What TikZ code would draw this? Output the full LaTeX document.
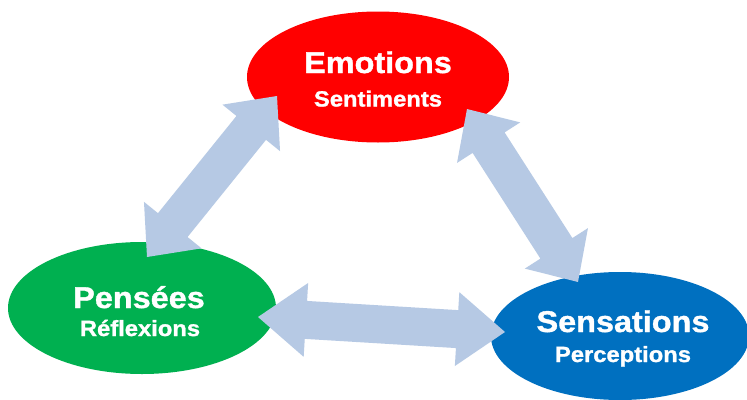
\documentclass[tikz,border=0pt]{standalone}
\usepackage{fontspec}
\newfontfamily\labfont{Liberation Sans}[FakeStretch=1.08,FakeBold=1.2]
\usetikzlibrary{shapes.geometric,calc}
\definecolor{emored}{HTML}{FF0000}
\definecolor{pengreen}{HTML}{00B050}
\definecolor{senblue}{HTML}{0070C0}
\definecolor{arrowblue}{HTML}{B6C9E4}
\tikzset{
  blob/.style={ellipse, inner sep=0pt, outer sep=0pt, draw=none},
  bigtxt/.style={text=white, inner sep=0pt, anchor=base, font=\labfont\bfseries\fontsize{30}{30}\selectfont},
  smalltxt/.style={text=white, inner sep=0pt, anchor=base, font=\labfont\bfseries\fontsize{22}{22}\selectfont},
  blockarrow/.style={fill=arrowblue, draw=none}
}
% double block arrow between two named coordinates: #1,#2 ends, #3 head length, #4 head half width, #5 shaft half width
\newcommand{\dblblock}[5]{%
  \fill[blockarrow] (#1)
    -- ($(#1)!#3!(#2)!#4!90:(#2)$)
    -- ($(#1)!#3!(#2)!#5!90:(#2)$)
    -- ($(#2)!#3!(#1)!#5!-90:(#1)$)
    -- ($(#2)!#3!(#1)!#4!-90:(#1)$)
    -- (#2)
    -- ($(#2)!#3!(#1)!#4!90:(#1)$)
    -- ($(#2)!#3!(#1)!#5!90:(#1)$)
    -- ($(#1)!#3!(#2)!#5!-90:(#2)$)
    -- ($(#1)!#3!(#2)!#4!-90:(#2)$)
    -- cycle;}
\begin{document}
\begin{tikzpicture}[x=1pt,y=-1pt]
\useasboundingbox (0,0) rectangle (747,399);
\fill[white] (0,0) rectangle (747,399);
\clip (0,0) rectangle (747,399);
% ellipses
\node[blob, fill=emored, minimum width=262pt, minimum height=131pt] (emo) at (378,77) {};
\node[blob, fill=pengreen, minimum width=268pt, minimum height=132pt] (pen) at (142,308) {};
\node[blob, fill=senblue, minimum width=258pt, minimum height=128pt] (sen) at (620,336) {};
% arrow ends
\coordinate (penTop) at (147,257);
\coordinate (emoLeft) at (277,96);
\coordinate (emoRight) at (467,109);
\coordinate (senTop) at (578,282);
\coordinate (penRight) at (258,317);
\coordinate (senLeft) at (505,332);
\dblblock{penTop}{emoLeft}{41pt}{37pt}{19pt}
\dblblock{emoRight}{senTop}{40pt}{37.5pt}{19pt}
\dblblock{penRight}{senLeft}{48pt}{37pt}{19pt}
% labels
\node[bigtxt] (emoT) at (378,73) {Emotions};
\node[smalltxt] (emoS) at (378,106.5) {Sentiments};
\node[bigtxt] (penT) at (139,308) {Pensées};
\node[smalltxt] (penS) at (140,336) {Réflexions};
\node[bigtxt] (senT) at (623,332) {Sensations};
\node[smalltxt] (senS) at (623,362) {Perceptions};
\end{tikzpicture}
\end{document}
